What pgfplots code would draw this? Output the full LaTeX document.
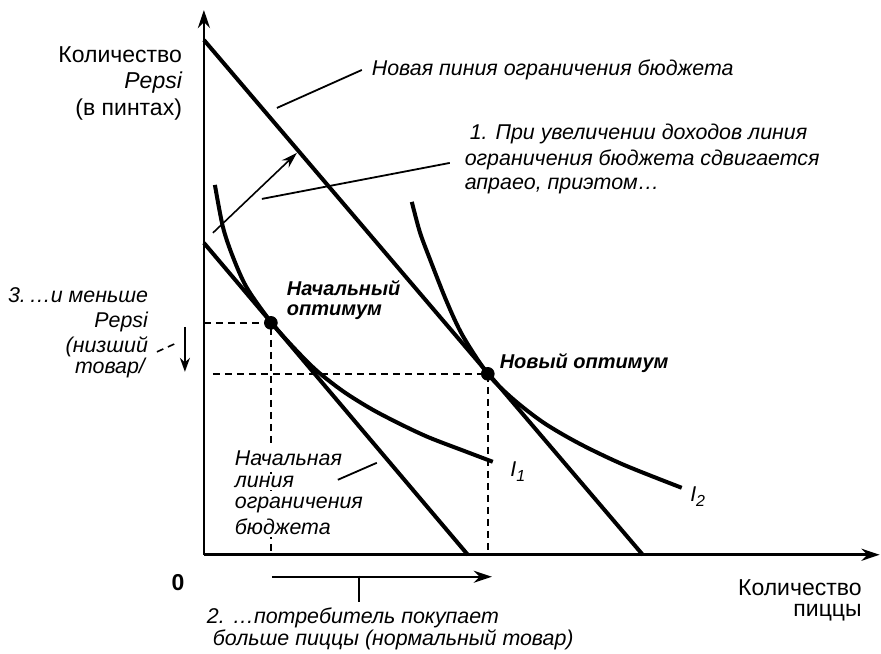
\documentclass[border=0pt]{standalone}
\usepackage{fontspec}
\setmainfont{Liberation Sans}
\usepackage{pgfplots}
\pgfplotsset{compat=1.18}
\usetikzlibrary{arrows.meta}

% sizes of the three kinds of text
\newcommand\upr{\fontsize{11.5}{13}\selectfont}
\newcommand\itl{\fontsize{10.7}{13}\selectfont\itshape}
\newcommand\bit{\fontsize{10}{12}\selectfont\bfseries\itshape}
\tikzset{lbl/.style={inner sep=0pt, outer sep=0pt},
         guide/.style={black, line width=0.8pt, dash pattern=on 3.5pt off 2.5pt}}

\begin{document}
\begin{tikzpicture}
\begin{axis}[
    x=0.5pt, y=0.5pt,
    xmin=0, xmax=676, ymin=0, ymax=545,
    axis lines=left,
    axis line style={line width=1.4pt, -{Stealth[length=9pt,width=6pt]}},
    xtick=\empty, ytick=\empty,
    clip=false,
]
% budget lines
\addplot[black, line width=2pt] coordinates {(0,515) (439,0)};
\addplot[black, line width=2pt] coordinates {(0,312) (264,0)};

% indifference curves
\addplot[black, line width=2pt, smooth, tension=0.5] coordinates {
    (11,370) (19,328) (29,298) (43,267) (67,233) (90,207) (113,184)
    (140,163) (169,145) (200,129) (226,117) (260,104) (289,93)};
\addplot[black, line width=2pt, smooth, tension=0.5] coordinates {
    (208,353) (216,323) (226,296) (243,253) (259,219) (284,181) (309,156)
    (340,132) (376,111) (420,90) (478,67)};

% dashed guides
\addplot[guide] coordinates {(0,232) (67,232) (67,0)};
\addplot[guide] coordinates {(9,181) (284,181) (284,0)};

% optimum points
\addplot[only marks, mark=*, mark size=3.2pt, black] coordinates {(67,232) (284,181)};

% shift arrow and leaders
\addplot[black, line width=0.8pt, -{Stealth[length=8pt,width=5pt]}] coordinates {(9,322) (93,402)};
\addplot[black, line width=0.9pt] coordinates {(73,447) (158,485)};
\addplot[black, line width=0.9pt] coordinates {(58,356) (246,392)};
\addplot[black, line width=0.9pt] coordinates {(134,75) (173,92)};
\addplot[guide] coordinates {(-47,203) (-27,212)};
\addplot[black, line width=1pt, -{Stealth[length=7pt,width=5pt]}] coordinates {(-19,228) (-19,183)};
\addplot[black, line width=1pt, -{Stealth[length=9pt,width=6pt]}] coordinates {(68,-22) (288,-22)};
\addplot[black, line width=1pt] coordinates {(155,-21) (155,-47)};

% y axis label
\node[lbl, anchor=east, font=\upr] at (axis cs:-22,500) {Количество};
\node[lbl, anchor=east, font=\upr\itshape] at (axis cs:-22,472) {Pepsi};
\node[lbl, anchor=east, font=\upr] at (axis cs:-22,445) {(в пинтах)};

% x axis label
\node[lbl, anchor=east, font=\upr] at (axis cs:658,-33) {Количество};
\node[lbl, anchor=east, font=\upr] at (axis cs:658,-58) {пиццы};
\node[lbl, font=\upr\bfseries] at (axis cs:-26,-28) {0};

% notes
\node[lbl, anchor=west, font=\itl] at (axis cs:168,485) {Новая пиния ограничения бюджета};
\node[lbl, anchor=west, font=\itl] at (axis cs:266,421) {1. При увеличении доходов линия};
\node[lbl, anchor=west, font=\itl] at (axis cs:261,395) {ограничения бюджета сдвигается};
\node[lbl, anchor=west, font=\itl] at (axis cs:261,369) {апраео, приэтом…};

\node[lbl, anchor=west, font=\bit] at (axis cs:83,267) {Начальный};
\node[lbl, anchor=west, font=\bit] at (axis cs:83,243) {оптимум};
\node[lbl, anchor=west, font=\bit] at (axis cs:296,192) {Новый оптимум};

\node[lbl, anchor=east, font=\itl] at (axis cs:-56,260) {3.\,…и меньше};
\node[lbl, anchor=east, font=\itl] at (axis cs:-56,233) {Pepsi};
\node[lbl, anchor=east, font=\itl] at (axis cs:-56,208) {(низший};
\node[lbl, anchor=east, font=\itl] at (axis cs:-59,187) {товар/};

\node[lbl, anchor=west, font=\itl, fill=white, inner sep=1pt] at (axis cs:29,97) {Начальная};
\node[lbl, anchor=west, font=\itl, fill=white, inner sep=1pt] at (axis cs:29,73) {линия};
\node[lbl, anchor=west, font=\itl, fill=white, inner sep=1pt] at (axis cs:29,50) {ограничения};
\node[lbl, anchor=west, font=\itl, fill=white, inner sep=1pt] at (axis cs:29,28) {бюджета};

\node[lbl, anchor=west, font=\itl] at (axis cs:3,-63) {2. …потребитель покупает};
\node[lbl, anchor=west, font=\itl] at (axis cs:9,-85) {больше пиццы (нормальный товар)};

\node[lbl, font=\itl] at (axis cs:314,83) {I\raisebox{-0.5ex}{\fontsize{8}{9}\selectfont 1}};
\node[lbl, font=\itl] at (axis cs:494,58) {I\raisebox{-0.5ex}{\fontsize{8}{9}\selectfont 2}};

% page frame the size of the reference
\path (axis cs:-204,-99) rectangle (axis cs:677,555);
\end{axis}
\end{tikzpicture}
\end{document}
